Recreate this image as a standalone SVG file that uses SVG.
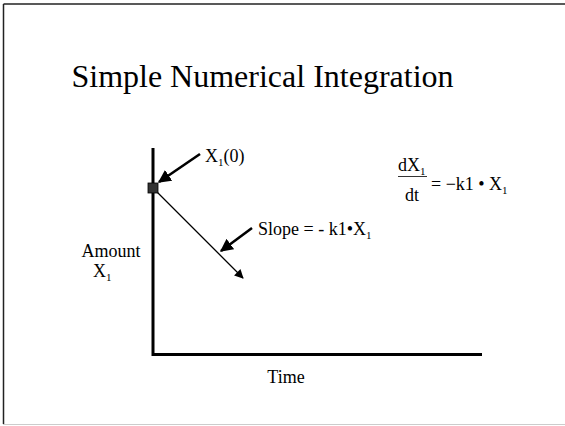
<svg xmlns="http://www.w3.org/2000/svg" width="565" height="426" viewBox="0 0 565 426">
<style>
text{font-family:"Liberation Serif","Times New Roman",serif;fill:#000}
.t{font-size:18px}
.sub{font-size:11px}
.ax{stroke:#000;stroke-width:3;fill:none}
.ln{stroke:#000;stroke-width:1.3;fill:none}
.th{stroke:#000;stroke-width:2.6;fill:none}
</style>
<defs>
<marker id="ah" viewBox="0 0 10 10" refX="9" refY="5" markerWidth="10" markerHeight="9" markerUnits="userSpaceOnUse" orient="auto">
<path d="M0,0 L10,5 L0,10 z" fill="#000"/>
</marker>
<marker id="ahb" viewBox="0 0 10 10" refX="9" refY="5" markerWidth="5" markerHeight="5" orient="auto">
<path d="M0,0 L10,5 L0,10 z" fill="#000"/>
</marker>
</defs>
<rect x="0" y="0" width="565" height="426" fill="#fff"/>
<line x1="3.5" y1="4" x2="565" y2="4" stroke="#222" stroke-width="1.5"/>
<line x1="3.5" y1="4" x2="3.5" y2="424" stroke="#222" stroke-width="1.5"/>
<line x1="3" y1="424.5" x2="565" y2="424.5" stroke="#ccc" stroke-width="1"/>
<g id="title"><text x="262.5" y="87" font-size="32" text-anchor="middle">Simple Numerical Integration</text></g>
<g id="axes">
<polyline class="ax" points="153,148 153,354.5 482,354.5"/>
</g>
<g id="connectors">
<line class="ln" x1="153" y1="188" x2="243" y2="278" marker-end="url(#ah)"/>
<line class="th" x1="200" y1="154" x2="159" y2="182" marker-end="url(#ahb)"/>
<line class="th" x1="252" y1="228" x2="221" y2="251" marker-end="url(#ahb)"/>
</g>
<g id="start"><rect x="148" y="183" width="10" height="10" fill="#333" stroke="#000" stroke-width="0.8"/></g>
<g id="x0-label"><text class="t" x="205" y="162">X<tspan class="sub" dy="4">1</tspan><tspan dy="-4">(0)</tspan></text></g>
<g id="slope-label"><text class="t" x="258" y="235">Slope = - k1•X<tspan class="sub" dy="4">1</tspan></text></g>
<g id="equation">
<text class="t" x="398" y="171">dX<tspan class="sub" dy="4">1</tspan></text>
<line x1="398" y1="176.5" x2="427" y2="176.5" stroke="#000" stroke-width="0.8"/>
<text class="t" x="405" y="201">dt</text>
<text class="t" x="431" y="190">= −k1 • X<tspan class="sub" dy="4">1</tspan></text>
</g>
<g id="ylabel">
<text class="t" x="111" y="257" text-anchor="middle">Amount</text>
<text class="t" x="93" y="277">X<tspan class="sub" dy="4">1</tspan></text>
</g>
<g id="xlabel"><text class="t" x="286" y="383" text-anchor="middle">Time</text></g>
</svg>
